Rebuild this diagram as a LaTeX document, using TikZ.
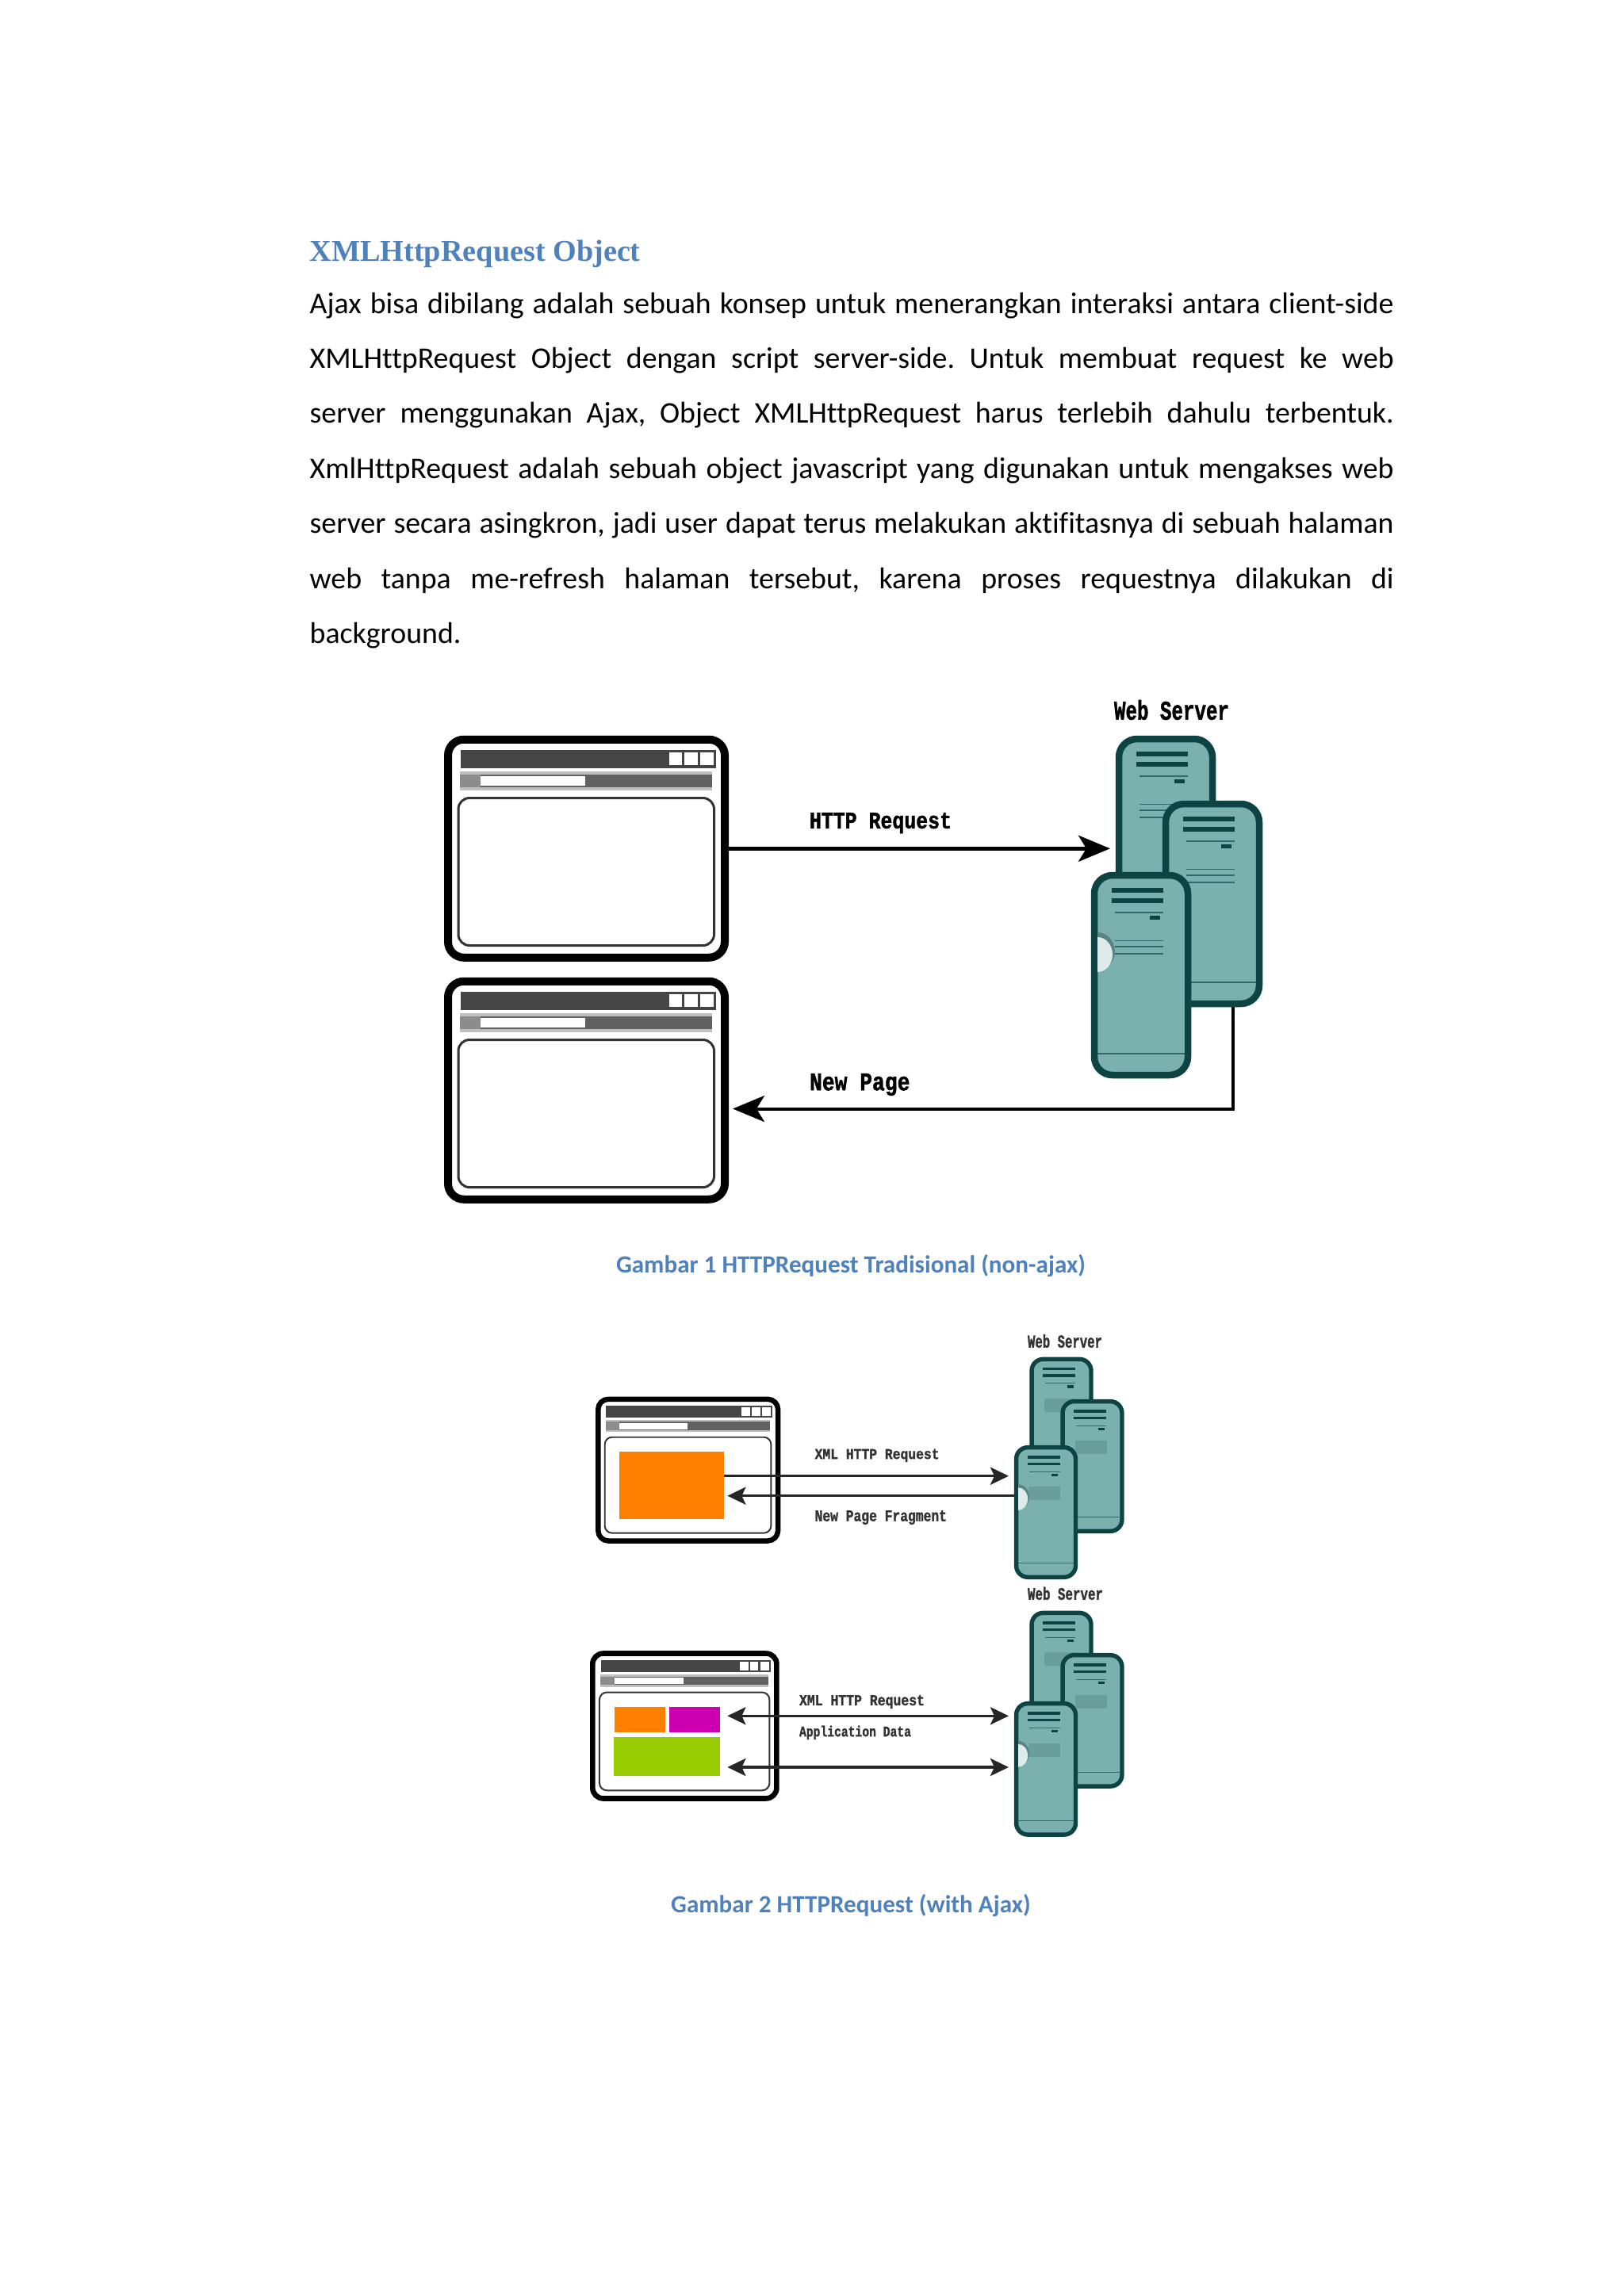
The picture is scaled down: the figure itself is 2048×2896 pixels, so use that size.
\documentclass[tikz,border=0pt]{standalone}
\usepackage{fontspec}
\usepackage{graphicx}
\usetikzlibrary{arrows.meta,calc}
\setmainfont[Ligatures=NoCommon]{Carlito}
\newfontfamily\lblfont[BoldFeatures={FakeBold=1.6}]{Liberation Mono}
\newfontfamily\titlefont{Liberation Serif}
\frenchspacing
\definecolor{heading}{HTML}{4F81BD}
\definecolor{teal}{HTML}{7AB0AE}
\definecolor{tealdark}{HTML}{0E4343}
\definecolor{tealtext}{HTML}{2F6A6A}
\definecolor{tealblock}{HTML}{699E9C}
\definecolor{orangefill}{HTML}{FF8000}
\definecolor{magentafill}{HTML}{CC00B0}
\definecolor{greenfill}{HTML}{99CC00}
\newlength\pxu
\setlength\pxu{0.2907pt}
\tikzset{
  lw/.style={line width=#1*\s*0.2907pt},
  bline/.style={line width=#1*0.2907pt},
  winframe/.style={draw=black,fill=white,rectangle,inner sep=0pt,outer sep=0pt},
  srv/.style={draw=tealdark,fill=teal,rectangle,inner sep=0pt,outer sep=0pt},
  bodyline/.style={anchor=base west,inner sep=0pt,font=\fontsize{11}{13}\selectfont},
  figcap/.style={anchor=base,inner sep=0pt,text=heading,font=\fontsize{9.05}{11}\selectfont\bfseries},
  lbl/.style={inner sep=0pt,outer sep=0pt},
  bigarrow/.style={draw=black,bline=4.5,-{Stealth[length=40*0.2907pt,width=33*0.2907pt,inset=10*0.2907pt]}},
  smallarrow/.style={draw=black!85,bline=3.5,-{Stealth[length=23*0.2907pt,width=22*0.2907pt,inset=5*0.2907pt]}},
  smalldouble/.style={draw=black!85,bline=3.5,{Stealth[length=23*0.2907pt,width=22*0.2907pt,inset=5*0.2907pt]}-{Stealth[length=23*0.2907pt,width=22*0.2907pt,inset=5*0.2907pt]}},
}
% #1 name, #2 left, #3 top, #4 scale
\newcommand\browserwin[4]{%
  \def\s{#4}%
  \begin{scope}[shift={(#2,#3)},scale=#4]
    \node[winframe,name=#1,lw=10,minimum width={349*#4*0.2907pt},minimum height={275*#4*0.2907pt},
      rounded corners={20*#4*0.2907pt}] at (178,141.75) {};
    \fill[black!73] (19,17) rectangle (341,40);
    \fill[white] (282,20.5) rectangle (298.5,36.5);
    \fill[white] (301.5,20.5) rectangle (318,36.5);
    \fill[white] (321.5,20.5) rectangle (338.5,36.5);
    \fill[black!25] (18.5,44.5) rectangle (336.5,68);
    \fill[black!62] (18.5,48) rectangle (336.5,64);
    \fill[black!45] (18.5,48) rectangle (44.5,64);
    \fill[white] (44.5,50.5) rectangle (176.5,62.5);
    \draw[draw=black!80,lw=3,rounded corners={14*#4*0.2907pt}] (16.5,78) rectangle (339,264);
  \end{scope}%
}
% #1 name, #2 left, #3 top, #4 scale, #5 extra vertical factor
\newcommand\serverbox[5]{%
  \def\s{#4}%
  \begin{scope}[shift={(#2,#3)},scale=#4,yscale=#5]
    \node[srv,name=#1,lw=8.5,minimum width={118*#4*0.2907pt},minimum height={252*#4*#5*0.2907pt},
      rounded corners={23*#4*0.2907pt}] at (63,130) {};
    \draw[tealdark,lw=5.5] (26,23) -- (91,23) (26,36) -- (91,36);
    \draw[tealtext,lw=1.5] (30,51) -- (91,51);
    \fill[tealdark] (74,55) rectangle (87,60);
    \draw[tealtext,lw=1.5] (30,86.5) -- (91,86.5) (30,94) -- (91,94) (30,103) -- (91,103);
    \draw[tealtext,lw=1.5] (8,229) -- (118,229);
  \end{scope}%
}
\newcommand\serverdisc[4]{%
  \begin{scope}[shift={(#1,#2)},scale=#3,yscale=#4]
    \fill[black!25!teal] (8,124) arc[start angle=90,end angle=-90,x radius=22,y radius=24] -- cycle;
    \fill[teal!25!white] (8,126) arc[start angle=90,end angle=-90,x radius=19,y radius=22] -- cycle;
  \end{scope}%
}
\newcommand\serverblock[4]{%
  \begin{scope}[shift={(#1,#2)},scale=#3,yscale=#4]
    \fill[tealblock] (29,80) rectangle (92,106);
  \end{scope}%
}
% [colour], name, x1, y1, x2, y2, text
\newcommand\lblnode[7][black]{%
  \pgfmathsetmacro\lblw{#5-#3}\pgfmathsetmacro\lblh{#6-#4}%
  \node[lbl,name=#2] at ({(#3+#5)/2},{(#4+#6)/2}) {\resizebox*{\lblw\pxu}{\lblh\pxu}{\textcolor{#1}{\lblfont\bfseries #7}}};%
}
\newcommand\jline[3]{\node[bodyline,name=#1] at (390,#2) {\makebox[1367\pxu][s]{#3}};}
\begin{document}
\begin{tikzpicture}[x=0.2907pt,y=-0.2907pt]
\useasboundingbox (0,0) rectangle (2048,2896);
\fill[white] (0,0) rectangle (2048,2896);
% heading and body
\node[anchor=base west,inner sep=0pt,name=title,text=heading] at (390,329)
  {\resizebox{417\pxu}{!}{\fontsize{13}{15}\selectfont\titlefont\bfseries XMLHttpRequest Object}};
\jline{t1}{395}{Ajax bisa dibilang adalah sebuah konsep untuk menerangkan interaksi antara client-side}
\jline{t2}{464}{XMLHttpRequest Object dengan script server-side. Untuk membuat request ke web}
\jline{t3}{533}{server menggunakan Ajax, Object XMLHttpRequest harus terlebih dahulu terbentuk.}
\jline{t4}{603}{XmlHttpRequest adalah sebuah object javascript yang digunakan untuk mengakses web}
\jline{t5}{672}{server secara asingkron, jadi user dapat terus melakukan aktifitasnya di sebuah halaman}
\jline{t6}{742}{web tanpa me-refresh halaman tersebut, karena proses requestnya dilakukan di}
\node[bodyline,name=t7] at (390,811) {background.};
% figure 1
\browserwin{b1}{561.5}{928.5}{1}
\browserwin{b2}{561.5}{1233.5}{1}
\coordinate (r1) at (1554.5,1260);
\coordinate (r1c) at (1554.5,1398.5);
\coordinate (b2in) at (924,1398.5);
\draw[draw=black,bline=4,-{Stealth[length=40*0.2907pt,width=33*0.2907pt,inset=10*0.2907pt]}] (r1) -- (r1c) -- (b2in);
\serverbox{sa1}{1407}{928}{1}{1}
\serverbox{sa2}{1466}{1010}{1}{1}
\serverbox{sa3}{1376}{1100}{1}{1}
\serverdisc{1376}{1100}{1}{1}
\coordinate (a1end) at (1400,1070.25);
\draw[bigarrow] (b1.east) -- (a1end);
\lblnode{lb1}{1021}{1025}{1200}{1051}{HTTP Request}
\lblnode{lb2}{1021}{1354}{1147.5}{1382}{New Page}
\lblnode{lb3}{1405}{883}{1550}{908}{Web Server}
\node[figcap,name=cap1] at (1073,1605.5) {Gambar 1 HTTPRequest Tradisional (non-ajax)};
% figure 2 upper
\browserwin{b3}{752}{1762}{0.65}
\fill[orangefill] (781,1831) rectangle (912.8,1916);
\serverbox{sb1}{1298.5}{1711.7}{0.635}{1.023}
\serverblock{1298.5}{1711.7}{0.635}{1.023}
\serverbox{sb2}{1337.5}{1765}{0.635}{1.023}
\serverblock{1337.5}{1765}{0.635}{1.023}
\serverbox{sb3}{1279}{1823}{0.635}{1.023}
\serverblock{1279}{1823}{0.635}{1.023}
\serverdisc{1279}{1823}{0.635}{1.023}
\coordinate (c1a) at (912.8,1861.7);
\coordinate (c1b) at (1272,1861.7);
\coordinate (c2a) at (1279,1886.7);
\coordinate (c2b) at (917.4,1886.7);
\draw[smallarrow] (c1a) -- (c1b);
\draw[smallarrow] (c2a) -- (c2b);
\lblnode[black!80]{lb4}{1027.6}{1827.7}{1184.6}{1844}{XML HTTP Request}
\lblnode[black!80]{lb5}{1027.6}{1905}{1194}{1923}{New Page Fragment}
\lblnode[black!80]{lb6}{1296}{1683}{1390}{1700}{Web Server}
% figure 2 lower
\browserwin{b4}{745}{2082.7}{0.665}
\fill[orangefill] (775,2153) rectangle (838.5,2185);
\fill[magentafill] (844,2153) rectangle (908,2185);
\fill[greenfill] (774,2191) rectangle (908,2240);
\serverbox{sc1}{1298.5}{2031.7}{0.635}{1.034}
\serverblock{1298.5}{2031.7}{0.635}{1.034}
\serverbox{sc2}{1337.5}{2085}{0.635}{1.034}
\serverblock{1337.5}{2085}{0.635}{1.034}
\serverbox{sc3}{1279}{2146}{0.635}{1.034}
\serverblock{1279}{2146}{0.635}{1.034}
\serverdisc{1279}{2146}{0.635}{1.034}
\coordinate (d1a) at (917.4,2164.3);
\coordinate (d1b) at (1272,2164.3);
\coordinate (d2a) at (917.4,2229);
\coordinate (d2b) at (1272,2229);
\draw[smalldouble] (d1a) -- (d1b);
\draw[smalldouble] (d2a) -- (d2b);
\lblnode[black!80]{lb7}{1008}{2138}{1166}{2155}{XML HTTP Request}
\lblnode[black!80]{lb8}{1008}{2176.7}{1149}{2194}{Application Data}
\lblnode[black!80]{lb9}{1296}{2001.7}{1391}{2018}{Web Server}
\node[figcap,name=cap2] at (1073,2412) {Gambar 2 HTTPRequest (with Ajax)};
\end{tikzpicture}
\end{document}
